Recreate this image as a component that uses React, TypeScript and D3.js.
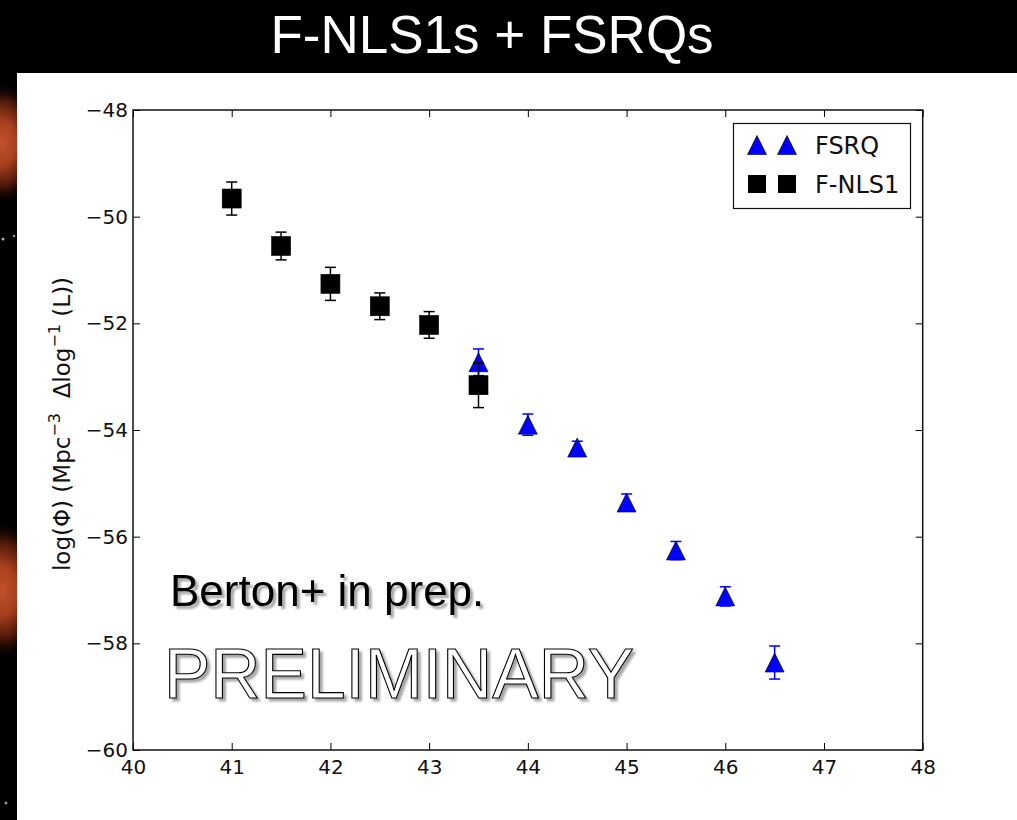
import React, { useRef, useEffect } from "react";
import * as d3 from "d3";

// luminosity bins (log L) and space densities
const fsrqLogL = [43.5, 44, 44.5, 45, 45.5, 46, 46.5];
const fsrqPhi = [-52.73, -53.9, -54.33, -55.36, -56.26, -57.12, -58.36];
const fsrqErr = [0.25, 0.2, 0.12, 0.16, 0.17, 0.18, 0.31];

const nlsLogL = [41, 41.5, 42, 42.5, 43, 43.5];
const nlsPhi = [-49.66, -50.55, -51.26, -51.68, -52.03, -53.16];
const nlsErr = [0.31, 0.26, 0.31, 0.25, 0.25, 0.42];

const xTicks = [40, 41, 42, 43, 44, 45, 46, 47, 48];
const yTicks = [-48, -50, -52, -54, -56, -58, -60];
const legendLabels = ["FSRQ", "F-NLS1"];

const W = 1017;
const H = 820;

const App = () => {
  const ref = useRef(null);

  useEffect(() => {
    const svg = d3.select(ref.current);
    svg.selectAll("*").remove();

    const margin = { top: 110, right: 1017 - 922.7, bottom: 820 - 750, left: 133 };

    // background: black slide with white panel
    svg.append("rect").attr("width", W).attr("height", H).attr("fill", "#000");

    const defs = svg.append("defs");
    const glow = defs.append("radialGradient").attr("id", "glow");
    glow.append("stop").attr("offset", "0%").attr("stop-color", "#c0502a");
    glow.append("stop").attr("offset", "35%").attr("stop-color", "#a8401d");
    glow.append("stop").attr("offset", "70%").attr("stop-color", "#4a1608");
    glow.append("stop").attr("offset", "100%").attr("stop-color", "#000").attr("stop-opacity", 0);
    const shadow = defs.append("filter").attr("id", "shadow").attr("x", "-10%").attr("y", "-10%").attr("width", "120%").attr("height", "130%");
    shadow.append("feGaussianBlur").attr("in", "SourceAlpha").attr("stdDeviation", 1.2).attr("result", "b");
    shadow.append("feOffset").attr("in", "b").attr("dx", 3).attr("dy", 3).attr("result", "o");
    shadow.append("feComponentTransfer").attr("in", "o").attr("result", "s")
      .append("feFuncA").attr("type", "linear").attr("slope", 0.35);
    const merge = shadow.append("feMerge");
    merge.append("feMergeNode").attr("in", "s");
    merge.append("feMergeNode").attr("in", "SourceGraphic");

    // orange glows in the left strip
    const strip = svg.append("g");
    strip.append("ellipse").attr("cx", 2).attr("cy", 143).attr("rx", 40).attr("ry", 62).attr("fill", "url(#glow)");
    strip.append("ellipse").attr("cx", 2).attr("cy", 590).attr("rx", 42).attr("ry", 70).attr("fill", "url(#glow)");
    strip.append("circle").attr("cx", 3).attr("cy", 239).attr("r", 1.5).attr("fill", "#aaa");
    strip.append("circle").attr("cx", 14).attr("cy", 236).attr("r", 1.2).attr("fill", "#999");
    strip.append("circle").attr("cx", 6).attr("cy", 803).attr("r", 1.5).attr("fill", "#a88");
    svg.append("rect").attr("x", 0).attr("y", 0).attr("width", W).attr("height", 73).attr("fill", "#000");

    svg.append("rect").attr("x", 17).attr("y", 73).attr("width", W - 17).attr("height", H - 73).attr("fill", "#fff");

    // title
    svg.append("text")
      .attr("x", 492)
      .attr("y", 53)
      .attr("text-anchor", "middle")
      .attr("fill", "#fff")
      .style("font-family", "'Liberation Sans', Arial, sans-serif")
      .style("font-size", "53px")
      .text("F-NLS1s + FSRQs");

    // scales
    const xScale = d3.scaleLinear().domain([40, 48]).range([margin.left, W - margin.right]);
    const yScale = d3.scaleLinear().domain([-60, -48]).range([H - margin.bottom, margin.top]);

    const tickFont = "'DejaVu Sans', sans-serif";
    const styleAxis = (g, labels) => {
      g.select(".domain").remove();
      g.selectAll(".tick line").attr("stroke", "#000").attr("stroke-width", 1);
      g.selectAll(".tick text")
        .attr("fill", "#111")
        .style("font-family", tickFont)
        .style("font-size", "20px");
      if (!labels) g.selectAll(".tick text").remove();
    };

    // axes, ticks pointing inward on all four sides
    svg.append("g")
      .attr("transform", `translate(0,${yScale(-60)})`)
      .call(d3.axisBottom(xScale).tickValues(xTicks).tickFormat(d3.format("d")).tickSizeInner(-7).tickSizeOuter(0).tickPadding(10))
      .call((g) => styleAxis(g, true));
    svg.append("g")
      .attr("transform", `translate(0,${yScale(-48)})`)
      .call(d3.axisTop(xScale).tickValues(xTicks).tickSizeInner(-7).tickSizeOuter(0))
      .call((g) => styleAxis(g, false));
    svg.append("g")
      .attr("transform", `translate(${xScale(40)},0)`)
      .call(d3.axisLeft(yScale).tickValues(yTicks).tickFormat(d3.format("d")).tickSizeInner(-7).tickSizeOuter(0).tickPadding(5))
      .call((g) => styleAxis(g, true));
    svg.append("g")
      .attr("transform", `translate(${xScale(48)},0)`)
      .call(d3.axisRight(yScale).tickValues(yTicks).tickSizeInner(-7).tickSizeOuter(0))
      .call((g) => styleAxis(g, false));

    svg.append("rect")
      .attr("x", xScale(40))
      .attr("y", yScale(-48))
      .attr("width", xScale(48) - xScale(40))
      .attr("height", yScale(-60) - yScale(-48))
      .attr("fill", "none")
      .attr("stroke", "#111")
      .attr("stroke-width", 1.5);

    // y label
    const yLab = svg.append("text")
      .attr("transform", `translate(70,424) rotate(-90)`)
      .attr("text-anchor", "middle")
      .attr("fill", "#111")
      .style("font-family", tickFont)
      .style("font-size", "23px");
    yLab.append("tspan").text("log(\u03A6) (Mpc");
    yLab.append("tspan").attr("dy", -10).style("font-size", "16px").text("\u22123");
    yLab.append("tspan").attr("dy", 10).text("\u00A0 \u0394log");
    yLab.append("tspan").attr("dy", -10).style("font-size", "16px").text("\u22121");
    yLab.append("tspan").attr("dy", 10).text(" (L))");

    // annotations
    svg.append("text")
      .attr("x", 170)
      .attr("y", 606)
      .attr("fill", "#000")
      .attr("filter", "url(#shadow)")
      .style("font-family", "'Liberation Sans', Arial, sans-serif")
      .style("font-size", "44px")
      .text("Berton+ in prep.");
    svg.append("text")
      .attr("x", 164)
      .attr("y", 698)
      .attr("fill", "#fff")
      .attr("stroke", "#000")
      .attr("stroke-width", 1.1)
      .attr("filter", "url(#shadow)")
      .attr("textLength", 470)
      .attr("lengthAdjust", "spacingAndGlyphs")
      .style("font-family", "'Liberation Sans', Arial, sans-serif")
      .style("font-size", "70px")
      .text("PRELIMINARY");

    const tri = (cx, cy, s) => `M${cx},${cy - s} L${cx + s},${cy + s} L${cx - s},${cy + s} Z`;

    const drawSeries = (xs, ys, errs, color, marker) => {
      const g = svg.append("g");
      xs.forEach((x, i) => {
        const cx = xScale(x);
        const y0 = yScale(ys[i] + errs[i]);
        const y1 = yScale(ys[i] - errs[i]);
        const eb = g.append("g").attr("stroke", color).attr("stroke-width", 1.5);
        eb.append("line").attr("x1", cx).attr("x2", cx).attr("y1", y0).attr("y2", y1);
        eb.append("line").attr("x1", cx - 5.5).attr("x2", cx + 5.5).attr("y1", y0).attr("y2", y0);
        eb.append("line").attr("x1", cx - 5.5).attr("x2", cx + 5.5).attr("y1", y1).attr("y2", y1);
      });
      xs.forEach((x, i) => {
        const cx = xScale(x);
        const cy = yScale(ys[i]);
        if (marker === "tri") {
          g.append("path").attr("d", tri(cx, cy, 9.5)).attr("fill", "#0000ff").attr("stroke", "#000").attr("stroke-width", 0.6);
        } else {
          g.append("rect").attr("x", cx - 9.5).attr("y", cy - 9.5).attr("width", 19).attr("height", 19)
            .attr("fill", "#000").attr("stroke", "#000").attr("stroke-width", 0.6);
        }
      });
    };

    drawSeries(fsrqLogL, fsrqPhi, fsrqErr, "#0000ff", "tri");
    drawSeries(nlsLogL, nlsPhi, nlsErr, "#000", "sq");

    // legend
    const lg = svg.append("g");
    lg.append("rect").attr("x", 733.5).attr("y", 123.5).attr("width", 177).attr("height", 85)
      .attr("fill", "#fff").attr("stroke", "#111").attr("stroke-width", 1.2);
    legendLabels.forEach((lab, i) => {
      const ry = 145 + i * 39;
      [757, 787].forEach((mx) => {
        if (i === 0) {
          lg.append("path").attr("d", tri(mx, ry, 9.5)).attr("fill", "#0000ff").attr("stroke", "#000").attr("stroke-width", 0.6);
        } else {
          lg.append("rect").attr("x", mx - 9).attr("y", ry - 9).attr("width", 18).attr("height", 18).attr("fill", "#000");
        }
      });
      lg.append("text")
        .attr("x", 815)
        .attr("y", ry + 8.5)
        .attr("fill", "#111")
        .style("font-family", tickFont)
        .style("font-size", "24px")
        .text(lab);
    });
  }, []);

  return (
    <svg ref={ref} width={W} height={H} style={{ position: "absolute", left: 0, top: 0, display: "block" }}></svg>
  );
};

export default App;
